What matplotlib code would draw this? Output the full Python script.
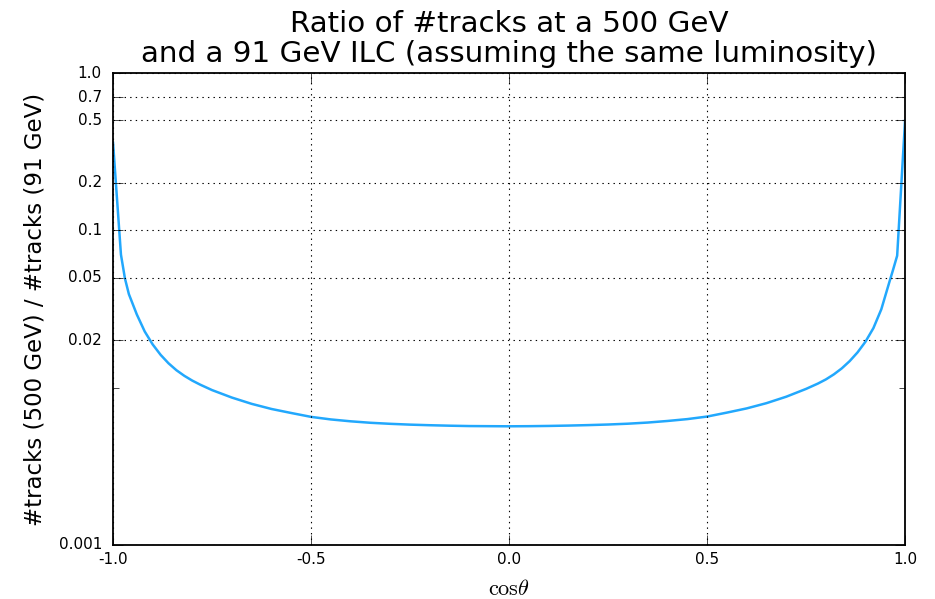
import matplotlib
matplotlib.use('Agg')
import matplotlib.pyplot as plt
from matplotlib.ticker import FixedLocator, FixedFormatter, NullFormatter

plt.style.use('classic')

# cos(theta) sample points and ratio
cos_theta = [-1.0, -0.98, -0.97, -0.96, -0.94, -0.92, -0.90, -0.88, -0.86,
             -0.84, -0.82, -0.80, -0.78, -0.75, -0.70, -0.65, -0.60, -0.55,
             -0.50, -0.45, -0.40, -0.35, -0.30, -0.25, -0.20, -0.15, -0.10,
             -0.05, 0.0, 0.05, 0.10, 0.15, 0.20, 0.25, 0.30, 0.35, 0.40,
             0.45, 0.50, 0.55, 0.60, 0.65, 0.70, 0.75, 0.78, 0.80, 0.82,
             0.84, 0.86, 0.88, 0.90, 0.92, 0.94, 0.96, 0.97, 0.98, 1.0]
ratio = [0.36, 0.070, 0.0495, 0.0393, 0.0292, 0.02275, 0.01884, 0.01618,
         0.01429, 0.01291, 0.01189, 0.01109, 0.01045, 0.00965, 0.00865,
         0.00789, 0.00732, 0.0069, 0.00652, 0.00628, 0.00611, 0.00598,
         0.00589, 0.00582, 0.00577, 0.00573, 0.0057, 0.00569, 0.00568,
         0.00569, 0.00571, 0.00574, 0.00578, 0.00583, 0.0059, 0.006,
         0.00614, 0.00631, 0.00655, 0.00694, 0.00738, 0.00797, 0.00876,
         0.00982, 0.01062, 0.01128, 0.01214, 0.01325, 0.01474, 0.01676,
         0.0196, 0.0239, 0.0315, 0.0466, 0.0565, 0.069, 0.5]

yticks = [0.001, 0.02, 0.05, 0.1, 0.2, 0.5, 0.7, 1.0]
ytick_labels = ['0.001', '0.02', '0.05', '0.1', '0.2', '0.5', '0.7', '1.0']
xticks = [-1.0, -0.5, 0.0, 0.5, 1.0]

fig = plt.figure(figsize=(9.35, 5.99), dpi=100, facecolor='white')
ax = fig.add_axes([0.1209, 0.0902, 0.8471, 0.7879])

ax.plot(cos_theta, ratio, color='#22a8fd', linewidth=1.8)
ax.set_yscale('log')
ax.set_xlim(-1.0, 1.0)
ax.set_ylim(0.001, 1.0)

ax.yaxis.set_major_locator(FixedLocator(yticks))
ax.yaxis.set_major_formatter(FixedFormatter(ytick_labels))
ax.yaxis.set_minor_locator(FixedLocator([0.01]))
ax.yaxis.set_minor_formatter(NullFormatter())
ax.set_xticks(xticks)
ax.set_xticklabels(['-1.0', '-0.5', '0.0', '0.5', '1.0'])

ax.tick_params(which='major', length=7, labelsize=11)
ax.tick_params(which='minor', length=4)
ax.tick_params(axis='x', pad=5)
ax.tick_params(axis='y', pad=8)
ax.grid(True, which='major', linestyle=':', color='k', linewidth=0.8)
for s in ax.spines.values():
    s.set_linewidth(1.3)

ax.set_title('Ratio of #tracks at a 500 GeV\nand a 91 GeV ILC (assuming the same luminosity)',
             fontsize=21.2, linespacing=1.1, pad=8)
ax.set_xlabel(r'$\mathrm{cos}\theta$', fontsize=16, labelpad=9)
ax.set_ylabel('#tracks (500 GeV) / #tracks (91 GeV)', fontsize=16.5, labelpad=9)

fig.savefig('out.png', dpi=100, facecolor='white')
